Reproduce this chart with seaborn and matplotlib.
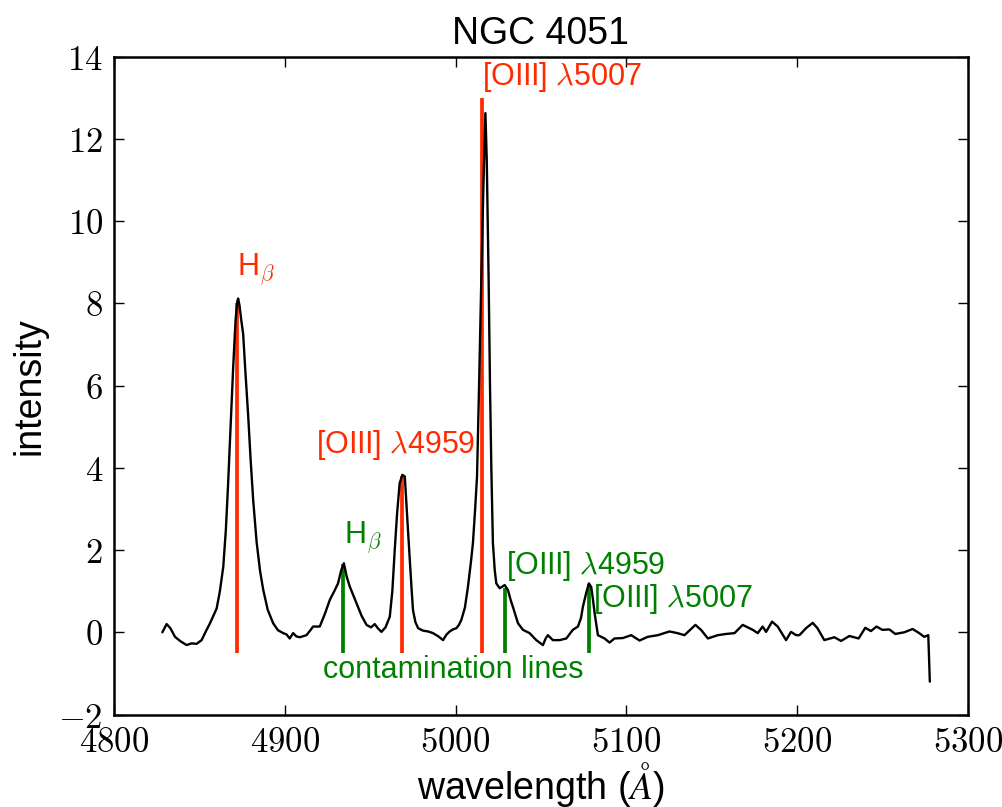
import matplotlib
matplotlib.use("Agg")
import matplotlib.pyplot as plt
import seaborn as sns
import pandas as pd

# ---- data ----
wavelength = [4828.3, 4830.8, 4833.0, 4835.7, 4839.0, 4842.5, 4845.4, 4848.4, 4851.3, 4853.5,
              4856.2, 4860.1, 4862.0, 4864.0, 4865.5, 4866.8, 4868.3, 4869.8, 4871.2, 4872.2,
              4872.7, 4873.5, 4874.5, 4875.6, 4877.0, 4878.6, 4880.0, 4881.5, 4883.5, 4885.5,
              4887.4, 4890.0, 4893.2, 4896.0, 4899.1, 4901.0, 4902.9, 4904.9, 4906.8, 4908.8,
              4912.7, 4915.0, 4916.6, 4920.5, 4923.5, 4926.4, 4929.0, 4931.2, 4933.0, 4934.6,
              4936.3, 4938.1, 4942.0, 4945.0, 4947.9, 4950.5, 4952.7, 4954.5, 4956.6, 4959.0,
              4961.5, 4963.0, 4964.4, 4965.8, 4967.3, 4968.9, 4970.3, 4970.9, 4972.0, 4973.2,
              4974.2, 4975.1, 4976.5, 4978.1, 4981.0, 4984.0, 4986.8, 4990.0, 4992.7, 4994.8,
              4996.6, 4998.5, 5000.5, 5002.0, 5003.4, 5005.5, 5007.3, 5009.0, 5010.2, 5011.5,
              5012.6, 5013.8, 5015.1, 5016.3, 5017.5, 5018.3, 5019.4, 5020.2, 5021.0, 5021.9,
              5023.0, 5023.9, 5025.9, 5028.8, 5030.7, 5032.2, 5033.6, 5036.6, 5039.5, 5043.4,
              5047.3, 5051.2, 5052.8, 5054.1, 5057.0, 5061.0, 5064.9, 5068.7, 5071.7, 5073.5,
              5074.6, 5076.5, 5078.1, 5079.5, 5080.5, 5081.5, 5083.4, 5087.3, 5090.2, 5093.1,
              5098.0, 5102.9, 5107.8, 5112.6, 5118.5, 5125.3, 5130.0, 5134.1, 5140.5, 5144.0,
              5147.8, 5153.6, 5158.5, 5163.4, 5168.2, 5174.1, 5177.0, 5179.9, 5181.9, 5185.4,
              5188.7, 5193.6, 5196.5, 5199.5, 5201.4, 5205.3, 5209.2, 5212.0, 5216.0, 5221.9,
              5225.8, 5230.7, 5236.1, 5240.0, 5243.3, 5246.6, 5250.0, 5254.1, 5257.6, 5262.8,
              5267.7, 5271.6, 5274.5, 5276.9, 5277.8]
intensity = [0.00, 0.20, 0.10, -0.11, -0.22, -0.31, -0.27, -0.28, -0.19, 0.00,
             0.22, 0.58, 1.00, 1.60, 2.50, 3.60, 5.00, 6.46, 7.60, 8.05,
             8.12, 7.95, 7.60, 7.27, 6.30, 5.25, 4.20, 3.22, 2.20, 1.50,
             1.03, 0.55, 0.22, 0.05, -0.02, -0.05, -0.15, -0.02, -0.10, -0.12,
             -0.07, 0.05, 0.14, 0.14, 0.45, 0.79, 1.00, 1.19, 1.50, 1.68,
             1.35, 1.11, 0.71, 0.40, 0.18, 0.12, 0.20, 0.10, 0.01, 0.12,
             0.38, 1.00, 2.00, 2.90, 3.63, 3.83, 3.79, 3.38, 2.60, 1.76,
             1.10, 0.54, 0.25, 0.10, 0.04, 0.02, -0.02, -0.10, -0.19, -0.05,
             0.02, 0.07, 0.10, 0.18, 0.30, 0.60, 1.11, 1.70, 2.17, 3.00,
             3.79, 6.00, 8.57, 10.8, 12.63, 11.5, 8.57, 6.00, 3.95, 2.17,
             1.50, 1.19, 1.07, 1.15, 1.03, 0.80, 0.62, 0.22, 0.06, -0.02,
             -0.19, -0.31, -0.15, -0.07, -0.19, -0.19, -0.15, 0.06, 0.14, 0.35,
             0.62, 0.95, 1.19, 1.10, 0.80, 0.46, -0.07, -0.15, -0.25, -0.15,
             -0.14, -0.07, -0.20, -0.11, -0.07, 0.02, -0.02, -0.07, 0.18, 0.05,
             -0.15, -0.07, -0.04, -0.02, 0.18, 0.06, -0.02, 0.14, 0.01, 0.26,
             0.14, -0.19, 0.01, -0.07, -0.07, 0.10, 0.23, 0.10, -0.19, -0.12,
             -0.21, -0.09, -0.15, 0.11, 0.03, 0.14, 0.06, 0.07, -0.04, 0.00,
             0.08, -0.02, -0.11, -0.07, -1.20]

# emission lines of NGC 4051 (red) and contamination lines (green)
line_labels = [r'H$_\beta$', r'[OIII] $\lambda$4959', r'[OIII] $\lambda$5007']
line_pos = [4872.1, 4968.9, 5015.5]
line_top = [8.0, 3.8, 13.0]
line_text_x = [4872.0, 4918.5, 5015.6]
line_text_y = [8.69, 4.35, 13.32]

contam_labels = [r'H$_\beta$', r'[OIII] $\lambda$4959', r'[OIII] $\lambda$5007']
contam_pos = [4934.2, 5028.8, 5078.1]
contam_top = [1.65, 1.07, 1.17]
contam_text_x = [4934.4, 5029.3, 5080.8]
contam_text_y = [2.18, 1.43, 0.62]
line_bottom = -0.5

xticks = [4800, 4900, 5000, 5100, 5200, 5300]
yticks = [-2, 0, 2, 4, 6, 8, 10, 12, 14]

RED = '#ff2a00'
GREEN = '#008000'

sns.set_style("ticks")
plt.rcParams['font.family'] = ['Liberation Sans', 'DejaVu Sans']
plt.rcParams['mathtext.fontset'] = 'cm'
for k in ['text.color', 'axes.labelcolor', 'xtick.color', 'ytick.color', 'axes.edgecolor']:
    plt.rcParams[k] = 'black'

fig = plt.figure(figsize=(10.02, 8.07), dpi=100)
ax = fig.add_axes([0.1138, 0.1146, 0.852, 0.815])

df = pd.DataFrame({'wavelength': wavelength, 'intensity': intensity})
sns.lineplot(data=df, x='wavelength', y='intensity', color='black', lw=1.7,
             ax=ax, sort=False, estimator=None)

ax.vlines(line_pos, line_bottom, line_top, colors=RED, lw=2.7, zorder=1)
ax.vlines(contam_pos, line_bottom, contam_top, colors=GREEN, lw=2.7, zorder=1)

for lab, x, y in zip(line_labels, line_text_x, line_text_y):
    ax.text(x, y, lab, color=RED, fontsize=22, ha='left', va='baseline')
for lab, x, y in zip(contam_labels, contam_text_x, contam_text_y):
    ax.text(x, y, lab, color=GREEN, fontsize=22, ha='left', va='baseline')
ax.text(4998.5, -1.12, 'contamination lines', color=GREEN, fontsize=22,
        ha='center', va='baseline')

ax.set_xlim(4800, 5300)
ax.set_ylim(-2, 14)
ax.set_xticks(xticks)
ax.set_yticks(yticks)
ax.set_xticklabels([r'$%d$' % v for v in xticks])
ax.set_yticklabels([r'$%d$' % v for v in yticks])
ax.tick_params(direction='in', length=7, width=1, top=True, right=True,
               labelsize=25, pad=8, color='black')
for s in ax.spines.values():
    s.set_linewidth(1.8)
    s.set_color('black')

ax.set_xlabel(r'wavelength ($\AA$)', fontsize=27, va='baseline')
ax.xaxis.set_label_coords(0.5, -0.128)
ax.set_ylabel('intensity', fontsize=27, labelpad=8)
ax.set_title('NGC 4051', fontsize=27, pad=9, color='black')

fig.savefig('out.png', dpi=100, facecolor='white')
